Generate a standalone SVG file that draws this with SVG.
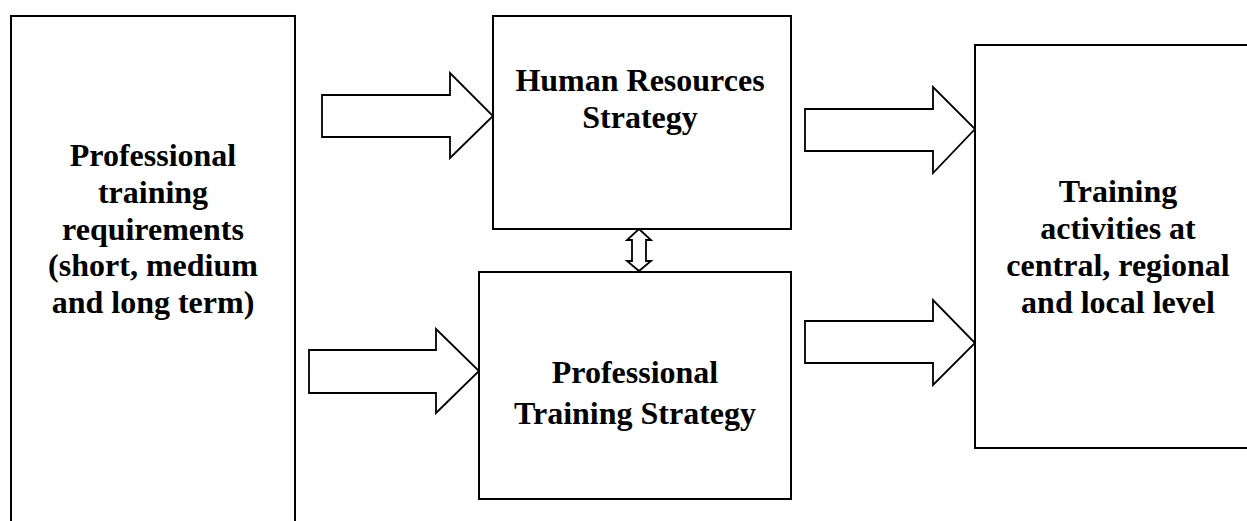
<svg xmlns="http://www.w3.org/2000/svg" width="1247" height="521" viewBox="0 0 1247 521">
<style>
.box{fill:#fff;stroke:#000;stroke-width:2}
.arr{fill:#fff;stroke:#000;stroke-width:1.8;stroke-linejoin:miter}
.t{font-family:"Liberation Serif","Times New Roman",serif;font-weight:bold;font-size:32px;fill:#000;text-anchor:middle}
</style>
<rect width="1247" height="521" fill="#fff"/>
<g id="requirements">
<rect class="box" x="11" y="16" width="284" height="520"/>
<text class="t" x="153" y="166">Professional</text>
<text class="t" x="153" y="203">training</text>
<text class="t" x="153" y="240">requirements</text>
<text class="t" x="153" y="276">(short, medium</text>
<text class="t" x="153" y="313">and long term)</text>
</g>
<g id="hr-strategy">
<rect class="box" x="493" y="16" width="298" height="213"/>
<text class="t" x="640" y="91">Human Resources</text>
<text class="t" x="640" y="128">Strategy</text>
</g>
<g id="pt-strategy">
<rect class="box" x="479" y="272" width="312" height="227"/>
<text class="t" x="635" y="383">Professional</text>
<text class="t" x="635" y="424">Training Strategy</text>
</g>
<g id="activities">
<rect class="box" x="975" y="45" width="300" height="403"/>
<text class="t" x="1118" y="202">Training</text>
<text class="t" x="1118" y="239">activities at</text>
<text class="t" x="1118" y="276">central, regional</text>
<text class="t" x="1118" y="313">and local level</text>
</g>
<g id="connectors">
<polygon class="arr" points="322,95 450,95 450,73 493,116 450,158 450,137 322,137"/>
<polygon class="arr" points="309,350 436,350 436,329 479,371 436,413 436,393 309,393"/>
<polygon class="arr" points="805,109 933,109 933,87 975,129 933,173 933,151 805,151"/>
<polygon class="arr" points="805,321 933,321 933,300 975,343 933,385 933,363 805,363"/>
<polygon class="arr" points="639,229 651,240 646,240 646,261 651,261 639,271 627,261 632,261 632,240 627,240"/>
</g>
</svg>
